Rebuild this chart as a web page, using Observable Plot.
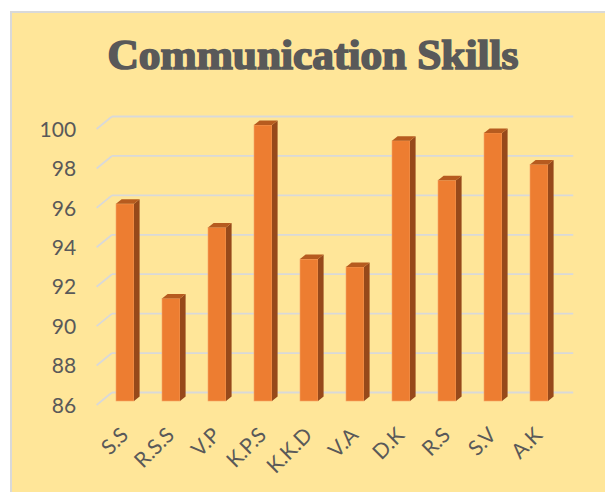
<!DOCTYPE html>
<html>
<head>
<meta charset="utf-8">
<script src="https://cdn.jsdelivr.net/npm/d3@7"></script>
<script src="https://cdn.jsdelivr.net/npm/@observablehq/plot@0.6"></script>
<style>
  html, body { margin: 0; padding: 0; background: #ffffff; width: 605px; height: 492px; overflow: hidden; }
  #chart { position: absolute; left: 10px; top: 11px; width: 595px; height: 481px; box-sizing: border-box;
           background: #FFE699; border-left: 2px solid #D9D9D9; border-top: 2px solid #D9D9D9; overflow: hidden; }
  #title { position: relative; height: 85px; }
  #title span { position: absolute; top: 21px; left: 9px; right: 0; text-align: center; display: block;
                font-family: "Liberation Serif", "DejaVu Serif", serif; font-weight: bold; font-size: 42px; line-height: 42px;
                color: #595959; -webkit-text-stroke: 1.7px #595959; white-space: nowrap; transform-origin: 50% 50%; }
  #plot svg { display: block; }
</style>
</head>
<body>
<div id="chart">
  <div id="title"><span id="titleText">Communication Skills</span></div>
  <div id="plot"></div>
</div>
<script>
// ---- data ----
const names = ["S.S", "R.S.S", "V.P", "K.P.S", "K.K.D", "V.A", "D.K", "R.S", "S.V", "A.K"];
const scores = [96, 91.2, 94.8, 100, 93.2, 92.8, 99.2, 97.2, 99.6, 98];
const yTicks = [86, 88, 90, 92, 94, 96, 98, 100];
const yBase = 86;

const data = names.map((name, i) => ({name, score: scores[i]}));

// ---- style ----
const FRONT = "#ED7D31", SIDE = "#97491A", TOP = "#B65B1F";
const GRID = "#D9D9D9", TEXT = "#595959";
const WALL_DX = 10.4, WALL_DY = 8.5;   // bar plane -> back wall offset
const AXIS_DX = 4.9, AXIS_DY = 4;      // bar plane -> front axis offset
const BAR_DX = 5.6, BAR_DY = 4.5;      // bar depth

const plot = Plot.plot({
  width: 593,
  height: 394,
  marginTop: 27,
  marginBottom: 91,
  marginLeft: 76,
  marginRight: 29,
  style: {background: "transparent", fontFamily: "Lato, 'Open Sans', sans-serif", overflow: "visible"},
  x: {domain: names, padding: 0.6, axis: null},
  y: {domain: [yBase, 100], axis: null},
  marks: [
    Plot.barY(data, {x: "name", y1: () => yBase, y2: "score", fill: FRONT, stroke: "#F4A76A", strokeWidth: 0.6}),
    Plot.text(yTicks, {y: d => d, text: d => String(d), frameAnchor: "left", textAnchor: "end",
                       dx: -12.4, dy: 4.5, fill: TEXT, fontSize: 21}),
    Plot.text(names, {x: d => d, text: d => d, frameAnchor: "bottom", rotate: -45, textAnchor: "end",
                      dx: 4, dy: 35, fill: TEXT, fontSize: 21})
  ]
});

document.getElementById("plot").appendChild(plot);

// ---- 3D decorations drawn from the plot's own scales ----
const svg = d3.select(plot);
const xs = plot.scale("x"), ys = plot.scale("y");
const bw = xs.bandwidth;
const yf = v => ys.apply(v);
const [r0, r1] = xs.range;
const wallL = r0 + xs.step * 0.52;
const wallR = r1 - xs.step * 0.06;

const grid = svg.insert("g", "g").attr("class", "wall-grid")
  .attr("stroke", GRID).attr("stroke-width", 1.8).attr("fill", "none");
for (const v of yTicks) {
  const yb = yf(v) - WALL_DY;
  grid.append("line").attr("x1", wallL).attr("x2", wallR).attr("y1", yb).attr("y2", yb);
  grid.append("line").attr("x1", wallL - (WALL_DX + AXIS_DX)).attr("y1", yf(v) + AXIS_DY)
      .attr("x2", wallL).attr("y2", yb);
}

const faces = svg.append("g").attr("class", "bar-faces");
for (const d of data) {
  const xl = xs.apply(d.name), xr = xl + bw;
  const yt = yf(d.score), yb = yf(yBase);
  faces.append("polygon")
    .attr("points", [[xr, yb], [xr, yt], [xr + BAR_DX, yt - BAR_DY], [xr + BAR_DX, yb - BAR_DY]].join(" "))
    .attr("fill", SIDE);
  faces.append("polygon")
    .attr("points", [[xl, yt], [xl + BAR_DX, yt - BAR_DY], [xr + BAR_DX, yt - BAR_DY], [xr, yt]].join(" "))
    .attr("fill", TOP);
}

// ---- fit title width to the reference ----
const t = document.getElementById("titleText");
const range = document.createRange();
range.selectNodeContents(t);
const w = range.getBoundingClientRect().width;
if (w > 0) t.style.transform = `scaleX(${(411 / w).toFixed(4)})`;
</script>
</body>
</html>
